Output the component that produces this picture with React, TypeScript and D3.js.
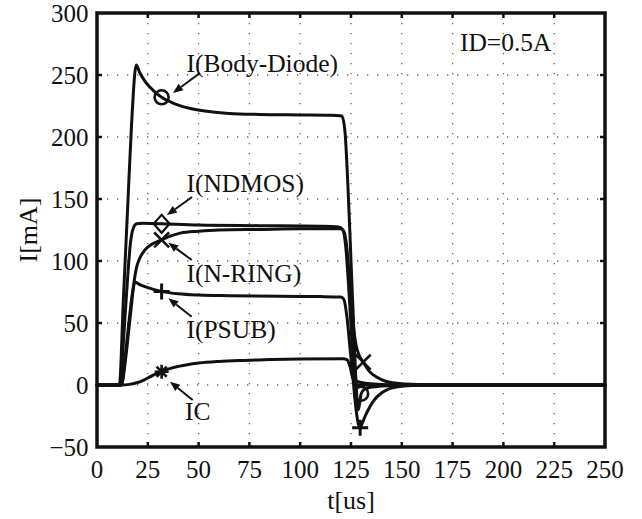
import React from "react";
import * as d3 from "d3";

// Time axis (us) and current (mA) for each measured branch
const bodyT = [0, 11, 13, 15, 17, 19.3, 21, 24, 28, 31.8, 38, 46, 55, 65, 80, 100, 115, 120.5, 122, 123.5, 125, 126.5, 127.7, 128.6, 130, 131.5, 134, 138, 144, 152, 165, 250];
const bodyI = [0, 0, 70, 140, 210, 258, 252, 244, 237, 232, 227, 223, 220.5, 219, 218.2, 217.8, 217.5, 217, 205, 160, 100, 40, -5, -20, -7, -3.5, -2, -1.2, -0.6, -0.2, 0, 0];

const ndmosT = [0, 11.5, 13, 15, 16.5, 18, 19.5, 22, 31.8, 50, 80, 110, 119, 121, 122.5, 124, 125.5, 127, 128, 130, 135, 250];
const ndmosI = [0, 0, 35, 85, 115, 127, 130, 130.5, 130, 129, 128.5, 128, 127.5, 125, 110, 75, 35, 8, 0, 0, 0, 0];

const nringT = [0, 12, 14, 16, 17, 18, 19.5, 21, 23.6, 27, 31.8, 36, 41, 50, 60, 80, 100, 120, 121.5, 123, 124.5, 126, 127.5, 129, 131, 134, 138, 142, 150, 160, 175, 250];
const nringI = [0, 0, 20, 50, 65, 80, 95, 102, 109, 113.5, 117, 120, 122.5, 124, 125, 125.5, 126, 126, 124, 110, 80, 50, 32, 24, 18.5, 11, 6, 3, 1, 0.4, 0, 0];

const psubT = [0, 12, 14, 16, 17.5, 18.7, 21, 25, 31.8, 40, 50, 65, 90, 110, 120, 121.5, 123, 124.5, 126, 127.5, 128.7, 129.5, 130.5, 132, 133.5, 136, 140, 144, 148, 155, 165, 250];
const psubI = [0, 0, 25, 55, 75, 83, 81, 78.5, 75.5, 73.5, 72.5, 72, 71.5, 71.3, 71, 69, 55, 30, 5, -20, -32, -34.5, -31, -25, -20, -13, -6.5, -3, -1.5, -0.4, 0, 0];

const icT = [0, 12, 16, 20, 23, 26, 29, 31.8, 35, 40, 45, 50, 60, 70, 85, 100, 121, 123, 124.5, 126, 128, 132, 140, 150, 250];
const icI = [0, 0, 0.5, 2, 4, 6.5, 9, 10.7, 12.8, 15, 16.6, 17.7, 19, 19.8, 20.5, 21, 21.2, 20.5, 15, 5, 3, 1.5, 0.5, 0, 0];

// Marker placements (times that exist in each series)
const bodyMarks = [31.8, 130];
const ndmosMarks = [31.8];
const nringMarks = [31.8, 131];
const psubMarks = [31.8, 129.5];
const icMarks = [31.8];

const xTicks = [0, 25, 50, 75, 100, 125, 150, 175, 200, 225, 250];
const yTicks = [-50, 0, 50, 100, 150, 200, 250, 300];

type Marker = "circle" | "diamond" | "x" | "plus" | "star";

const series = [
  { name: "I(Body-Diode)", t: bodyT, v: bodyI, marks: bodyMarks, marker: "circle" as Marker, label: [44, 252.5], tail: [50.7, 251.6], head: [37.4, 235.5] },
  { name: "I(NDMOS)", t: ndmosT, v: ndmosI, marks: ndmosMarks, marker: "diamond" as Marker, label: [44, 155.8], tail: [46.8, 151.6], head: [34.4, 137] },
  { name: "I(N-RING)", t: nringT, v: nringI, marks: nringMarks, marker: "x" as Marker, label: [44, 83.3], tail: [46.6, 100.8], head: [35.1, 114.8] },
  { name: "I(PSUB)", t: psubT, v: psubI, marks: psubMarks, marker: "plus" as Marker, label: [44, 37.9], tail: [46.6, 55], head: [35.1, 70] },
  { name: "IC", t: icT, v: icI, marks: icMarks, marker: "star" as Marker, label: [43.3, -28.2], tail: [47.1, -12.1], head: [35.9, 2.7] },
];

const W = 642;
const H = 519;
const M = { left: 97, right: 605, top: 13, bottom: 447 };
const serif: React.CSSProperties = { fontFamily: "Liberation Serif, Times New Roman, DejaVu Serif, serif" };

function MarkerShape({ kind, x, y }: { kind: Marker; x: number; y: number }) {
  const s = 7.5;
  const common = { stroke: "#111", strokeWidth: 2.6, fill: "none" };
  if (kind === "circle") return <circle cx={x} cy={y} r={7} {...common} />;
  if (kind === "diamond")
    return <path d={`M${x},${y - 9}L${x + 8},${y}L${x},${y + 9}L${x - 8},${y}Z`} {...common} strokeWidth={2.2} />;
  if (kind === "x")
    return <path d={`M${x - s},${y - s}L${x + s},${y + s}M${x - s},${y + s}L${x + s},${y - s}`} {...common} />;
  if (kind === "plus")
    return <path d={`M${x - 8},${y}L${x + 8},${y}M${x},${y - 8}L${x},${y + 8}`} {...common} strokeWidth={3} />;
  const r = 7;
  return (
    <path
      d={`M${x - r},${y}L${x + r},${y}M${x},${y - r}L${x},${y + r}M${x - r * 0.72},${y - r * 0.72}L${x + r * 0.72},${y + r * 0.72}M${x - r * 0.72},${y + r * 0.72}L${x + r * 0.72},${y - r * 0.72}`}
      {...common}
      strokeWidth={2.6}
    />
  );
}

export default function App() {
  const x = d3.scaleLinear().domain([0, 250]).range([M.left, M.right]);
  const y = d3.scaleLinear().domain([-50, 300]).range([M.bottom, M.top]);
  const line = d3
    .line<[number, number]>()
    .x((d) => x(d[0]))
    .y((d) => y(d[1]))
    .curve(d3.curveMonotoneX);

  const arrow = (t: number[], h: number[]) => {
    const x1 = x(t[0]), y1 = y(t[1]), x2 = x(h[0]), y2 = y(h[1]);
    const ang = Math.atan2(y2 - y1, x2 - x1);
    const L = 10, Wd = 4;
    const bx = x2 - L * Math.cos(ang), by = y2 - L * Math.sin(ang);
    const px = -Math.sin(ang) * Wd, py = Math.cos(ang) * Wd;
    return (
      <g>
        <line x1={x1} y1={y1} x2={bx} y2={by} stroke="#111" strokeWidth={2} />
        <path d={`M${x2},${y2}L${bx + px},${by + py}L${bx - px},${by - py}Z`} fill="#111" />
      </g>
    );
  };

  return (
    <svg width={W} height={H} style={{ position: "absolute", left: 0, top: 0, background: "#fff" }}>
      {/* dotted grid */}
      <g stroke="#666" strokeWidth={1.3} strokeDasharray="1.3,8.7">
        {xTicks.slice(1, -1).map((t) => (
          <line key={"gx" + t} x1={x(t)} x2={x(t)} y1={M.top} y2={M.bottom} />
        ))}
        {yTicks.slice(1, -1).map((v) => (
          <line key={"gy" + v} x1={M.left} x2={M.right} y1={y(v)} y2={y(v)} />
        ))}
      </g>

      {/* curves */}
      <g fill="none" stroke="#111" strokeWidth={3} strokeLinejoin="round" strokeLinecap="round">
        {series.map((s) => (
          <path key={s.name} d={line(s.t.map((t, i) => [t, s.v[i]] as [number, number])) || ""} />
        ))}
      </g>

      {/* markers */}
      {series.map((s) =>
        s.marks.map((mt) => {
          const i = s.t.indexOf(mt);
          return <MarkerShape key={s.name + mt} kind={s.marker} x={x(mt)} y={y(s.v[i])} />;
        })
      )}

      {/* annotations */}
      {series.map((s) => (
        <g key={"a" + s.name}>
          {arrow(s.tail, s.head)}
          <text x={x(s.label[0])} y={y(s.label[1])} style={serif} fontSize={25.5} fill="#111">
            {s.name}
          </text>
        </g>
      ))}

      <text x={x(178.6)} y={y(269.4)} style={serif} fontSize={25.5} fill="#111">
        ID=0.5A
      </text>

      {/* ticks */}
      <g stroke="#111" strokeWidth={2.5}>
        {xTicks.slice(1, -1).map((t) => (
          <g key={"tx" + t}>
            <line x1={x(t)} x2={x(t)} y1={M.bottom} y2={M.bottom - 5} />
            <line x1={x(t)} x2={x(t)} y1={M.top} y2={M.top + 5} />
          </g>
        ))}
        {yTicks.slice(1, -1).map((v) => (
          <g key={"ty" + v}>
            <line x1={M.left} x2={M.left + 5} y1={y(v)} y2={y(v)} />
            <line x1={M.right} x2={M.right - 5} y1={y(v)} y2={y(v)} />
          </g>
        ))}
      </g>

      {/* frame */}
      <rect x={M.left} y={M.top} width={M.right - M.left} height={M.bottom - M.top} fill="none" stroke="#111" strokeWidth={3.5} />

      {/* tick labels */}
      <g style={serif} fontSize={25} fill="#111">
        {xTicks.map((t) => (
          <text key={"lx" + t} x={x(t)} y={478} textAnchor="middle" style={serif}>
            {t}
          </text>
        ))}
        {yTicks.map((v) => (
          <text key={"ly" + v} x={88.5} y={y(v) + 8.5} textAnchor="end" style={serif}>
            {v < 0 ? "\u2212" + Math.abs(v) : v}
          </text>
        ))}
      </g>

      {/* axis titles */}
      <text x={(M.left + M.right) / 2} y={509} textAnchor="middle" style={serif} fontSize={26} fill="#111">
        t[us]
      </text>
      <text
        transform={`translate(37,${(M.top + M.bottom) / 2}) rotate(-90)`}
        textAnchor="middle"
        style={serif}
        fontSize={26}
        fill="#111"
      >
        I[mA]
      </text>
    </svg>
  );
}
